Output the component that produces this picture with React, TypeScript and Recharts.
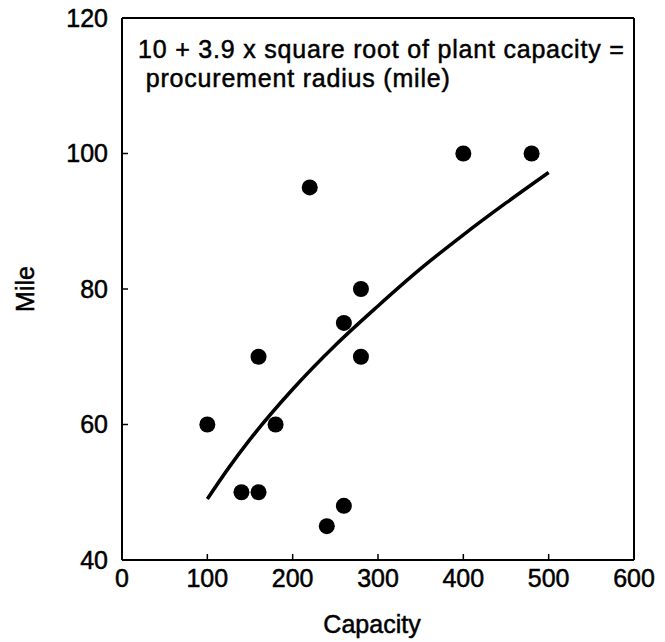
import React from "react"
import { ComposedChart, Scatter, Line, XAxis, YAxis, ReferenceLine } from "recharts"

// observed plants
const capacity = [100, 140, 160, 160, 180, 220, 240, 260, 260, 280, 280, 400, 480]
const miles = [60, 50, 50, 70, 60, 95, 45, 48, 75, 80, 70, 100, 100]

// fitted curve
const fitCapacity = [100, 125, 150, 200, 250, 300, 350, 400, 450, 500]
const fitMiles = [49, 53.6, 57.8, 65.2, 71.7, 77.5, 83, 88, 92.7, 97.2]

const xTicks = [0, 100, 200, 300, 400, 500, 600]
const yTicks = [40, 60, 80, 100, 120]

const points = capacity.map((x, i) => ({ x, y: miles[i] }))
const curve = fitCapacity.map((x, i) => ({ x, y: fitMiles[i] }))

const font = "'Liberation Sans', Arial, sans-serif"
const tickStyle = { fill: "#000", stroke: "#000", strokeWidth: 0.5, fontSize: 25, fontFamily: font }

export default function App() {
  return (
    <div style={{ position: "absolute", left: 0, top: 0, width: 665, height: 642, background: "#fff" }}>
      <ComposedChart width={665} height={642} margin={{ top: 18, right: 31, bottom: 12, left: 0 }}>
        <XAxis
          type="number"
          dataKey="x"
          domain={[0, 600]}
          ticks={xTicks}
          height={70}
          tickSize={-6}
          tickMargin={15}
          tick={tickStyle}
          axisLine={{ stroke: "#000", strokeWidth: 2 }}
          tickLine={{ stroke: "#000", strokeWidth: 1.5 }}
          label={{ value: "Capacity", position: "center", dy: 29, dx: -6, fill: "#000", stroke: "#000", strokeWidth: 0.5, fontSize: 25, fontFamily: font }}
        />
        <YAxis
          type="number"
          dataKey="y"
          domain={[40, 120]}
          ticks={yTicks}
          width={122}
          tickSize={-6}
          tickMargin={20}
          tick={tickStyle}
          axisLine={{ stroke: "#000", strokeWidth: 2 }}
          tickLine={{ stroke: "#000", strokeWidth: 1.5 }}
          label={{ value: "Mile", angle: -90, position: "center", dx: -36, fill: "#000", stroke: "#000", strokeWidth: 0.5, fontSize: 25, fontFamily: font }}
        />
        <ReferenceLine y={120} stroke="#000" strokeWidth={2} />
        <ReferenceLine x={600} stroke="#000" strokeWidth={2} />
        <Line
          data={curve}
          dataKey="y"
          type="monotone"
          stroke="#000"
          strokeWidth={3.5}
          dot={false}
          activeDot={false}
          isAnimationActive={false}
        />
        <Scatter
          data={points}
          fill="#000"
          isAnimationActive={false}
          shape={(p: any) => <circle cx={p.cx} cy={p.cy} r={8} fill="#000" />}
        />
      </ComposedChart>
      <div
        style={{
          position: "absolute",
          left: 138,
          top: 35,
          fontFamily: font,
          fontSize: 25,
          letterSpacing: 0.8,
          lineHeight: "29px",
          color: "#000",
          WebkitTextStroke: "0.5px #000",
          whiteSpace: "pre",
        }}
      >
        {"10 + 3.9 x square root of plant capacity =\n procurement radius (mile)"}
      </div>
    </div>
  )
}
